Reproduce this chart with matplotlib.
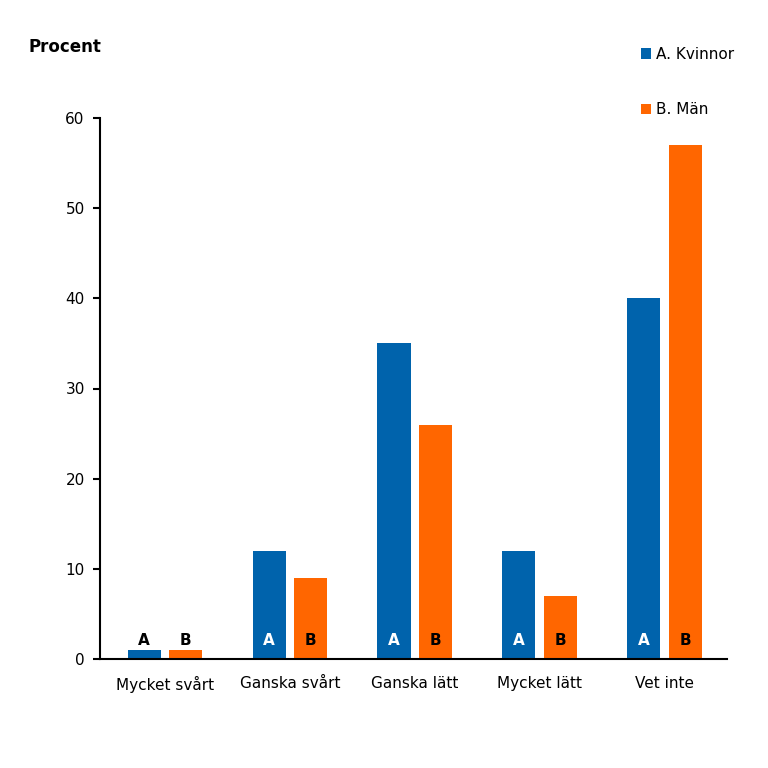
import matplotlib
matplotlib.use("Agg")
import matplotlib.pyplot as plt
import numpy as np

categories = ["Mycket svårt", "Ganska svårt", "Ganska lätt", "Mycket lätt", "Vet inte"]
kvinnor = [1, 12, 35, 12, 40]
man = [1, 9, 26, 7, 57]
series_names = ["A. Kvinnor", "B. Män"]
bar_letters = ["A", "B"]
yticks = [0, 10, 20, 30, 40, 50, 60]

blue = "#0063AC"
orange = "#FF6600"

plt.rcParams['font.family'] = ['DejaVu Sans']

fig = plt.figure(figsize=(7.68, 7.68), dpi=100)
ax = fig.add_axes([100/768, 1-659/768, 627/768, 541/768])

x = np.arange(len(categories))
w = 0.265
off = 0.166
b1 = ax.bar(x - off, kvinnor, w, color=blue, label=series_names[0])
b2 = ax.bar(x + off, man, w, color=orange, label=series_names[1])

for i in range(len(categories)):
    for j, (vals, xs) in enumerate([(kvinnor, x - off), (man, x + off)]):
        v = vals[i]
        if v > 4 and j == 0:
            col = "white"
        else:
            col = "black"
        ax.text(xs[i], 2.1, bar_letters[j], ha="center", va="center",
                fontsize=11, fontweight="bold", color=col)

ax.set_xlim(-0.52, 4.5)
ax.set_ylim(0, 60)
ax.set_yticks(yticks)
ax.set_xticks(x)
ax.set_xticklabels(categories, fontsize=11)
ax.tick_params(axis="y", labelsize=11, length=5, width=1.5, direction="out", pad=6)
ax.tick_params(axis="x", length=0, pad=12)
for s in ["top", "right"]:
    ax.spines[s].set_visible(False)
ax.spines["left"].set_linewidth(1.5)
ax.spines["bottom"].set_linewidth(1.5)

fig.text(28/768, 1-47/768, "Procent", fontsize=12, fontweight="bold", ha="left", va="center")

leg = fig.legend(handles=[b1, b2], labels=series_names, loc="upper left",
                 bbox_to_anchor=(627/768, 1-33/768), frameon=False, fontsize=11,
                 handlelength=0.7, handleheight=0.7, handletextpad=0.3, labelspacing=2.65)

fig.savefig("out.png", dpi=100)
